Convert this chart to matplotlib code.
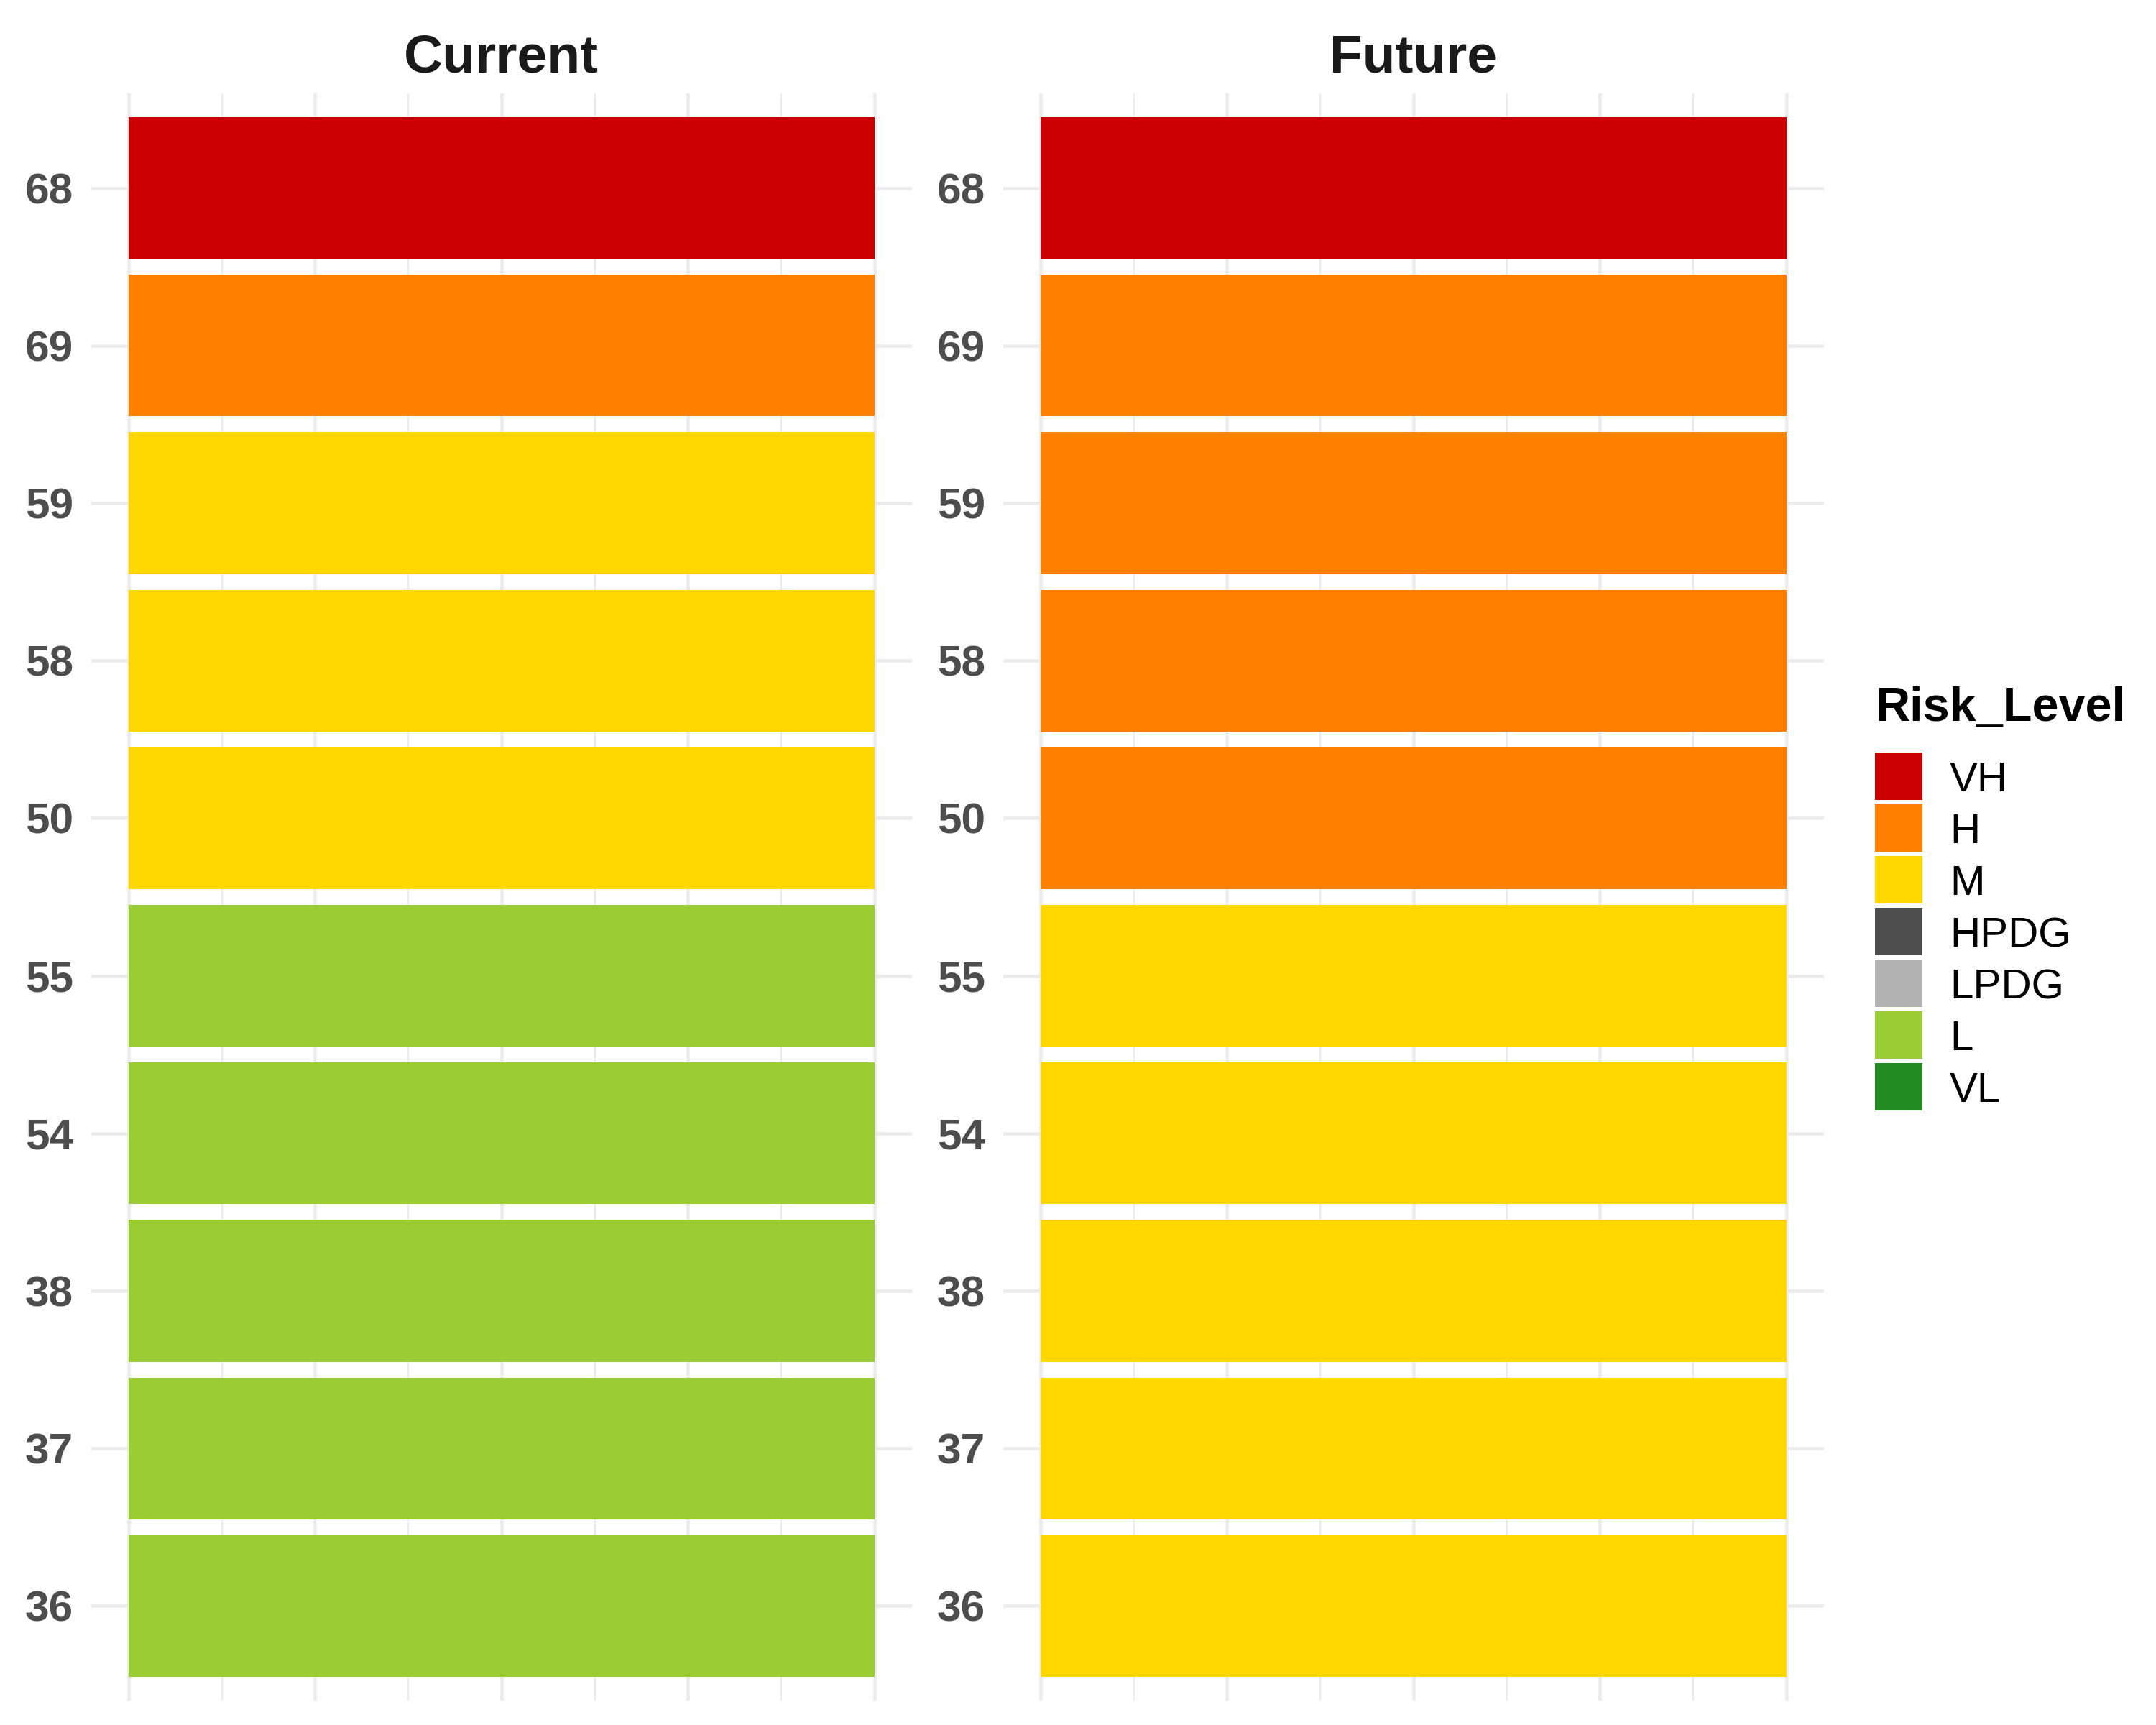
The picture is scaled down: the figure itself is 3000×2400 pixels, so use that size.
import matplotlib
matplotlib.use("Agg")
import matplotlib.pyplot as plt
from matplotlib.patches import Rectangle

plt.rcParams['font.family'] = ['Liberation Sans', 'DejaVu Sans']

# ---- data ----
sites = ["68", "69", "59", "58", "50", "55", "54", "38", "37", "36"]
current_risk = ["VH", "H", "M", "M", "M", "L", "L", "L", "L", "L"]
future_risk = ["VH", "H", "H", "H", "H", "M", "M", "M", "M", "M"]
panels = ["Current", "Future"]
levels = ["VH", "H", "M", "HPDG", "LPDG", "L", "VL"]
level_colors = ["#CC0000", "#FF8000", "#FFD700", "#4D4D4D", "#B3B3B3", "#9ACD32", "#228B22"]
cmap = dict(zip(levels, level_colors))

W, H = 3000, 2400
fig = plt.figure(figsize=(10, 8), dpi=300)

# panel geometry in figure pixels (3000 x 2400, y from top)
panel_lefts = [127.1, 1396.1]
panel_w = 1141.5
top, bottom = 130.0, 2366.0
grid_col = "#EBEBEB"

n = len(sites)
ypos = list(range(n))  # 0 at top

for i, (title, risks) in enumerate(zip(panels, [current_risk, future_risk])):
    ax = fig.add_axes([panel_lefts[i] / W, 1 - bottom / H, panel_w / W, (bottom - top) / H])
    ax.set_xlim(0.45, 1.55)
    ax.set_ylim(n - 1 + 0.6, -0.6)
    for k in range(9):
        xv = 0.5 + k * 0.125
        ax.axvline(xv, color=grid_col, lw=1.1 if k % 2 == 0 else 0.55, zorder=0)
    for y in ypos:
        ax.axhline(y, color=grid_col, lw=1.1, zorder=0)
    ax.barh(ypos, [1.0] * n, left=0.5, height=0.9,
            color=[cmap[r] for r in risks], edgecolor="none", zorder=2)
    ax.set_yticks(ypos)
    ax.set_yticklabels(sites, fontsize=14.5, fontweight="bold", color="#4D4D4D")
    ax.tick_params(axis="y", length=0, pad=6)
    ax.set_xticks([])
    for s in ax.spines.values():
        s.set_visible(False)
    ax.set_title(title, fontsize=18, fontweight="bold", color="#1A1A1A", pad=7)

# ---- legend (drawn in figure pixel space) ----
lax = fig.add_axes([0, 0, 1, 1])
lax.set_xlim(0, W)
lax.set_ylim(H, 0)
lax.axis("off")
lax.text(2610, 1003, "Risk_Level", fontsize=16, fontweight="bold", color="black",
         ha="left", va="baseline")
for j, (lab, col) in enumerate(zip(levels, level_colors)):
    y0 = 1047 + 72 * j
    lax.add_patch(Rectangle((2609, y0), 66, 66, facecolor=col, edgecolor="none"))
    lax.text(2713, y0 + 33, lab, fontsize=14, color="black", ha="left", va="center_baseline")

fig.savefig("out.png", dpi=300, facecolor="white")
